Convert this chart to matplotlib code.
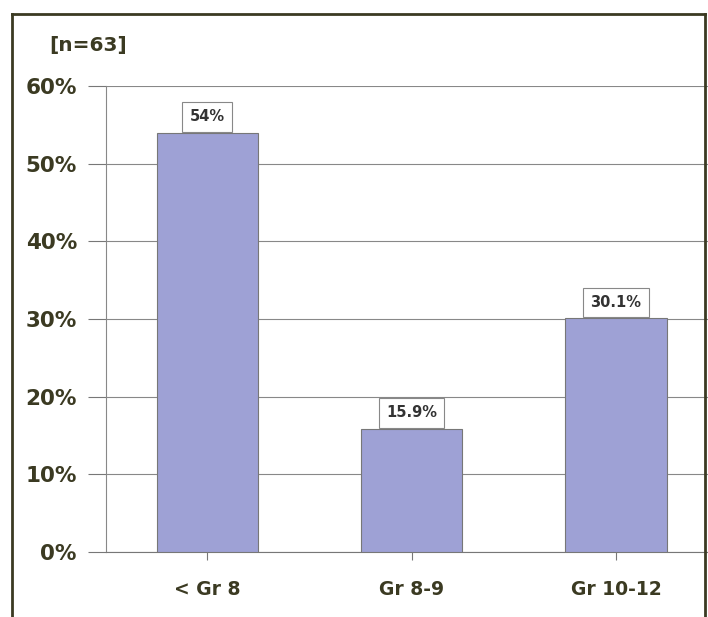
import matplotlib
matplotlib.use("Agg")
import matplotlib.pyplot as plt
from matplotlib.lines import Line2D

categories = ["< Gr 8", "Gr 8-9", "Gr 10-12"]
values = [54, 15.9, 30.1]
value_labels = ["54%", "15.9%", "30.1%"]
yticks = [0, 10, 20, 30, 40, 50, 60]
ytick_labels = ["0%", "10%", "20%", "30%", "40%", "50%", "60%"]
note = "[n=63]"

plt.rcParams['font.family'] = ['DejaVu Sans']
txt = "#3b3a22"

fig = plt.figure(figsize=(7.08, 6.17), dpi=100)
ax = fig.add_axes([106/708, 65/617, 602/708, 466/617])

x = list(range(len(categories)))
ax.bar(x, values, width=0.495, color="#9ea1d5", edgecolor="#777777", linewidth=0.8, zorder=3)
ax.set_ylim(0, 60)
ax.set_xlim(-0.495, (708-207)/204.5)
ax.set_yticks(yticks)
ax.set_yticklabels(ytick_labels, fontsize=15.5, fontweight="bold", color=txt)
ax.set_xticks(x)
ax.set_xticklabels(categories, fontsize=13.5, fontweight="bold", color=txt)
ax.tick_params(axis="y", length=13, width=0.8, color="#777777", pad=8)
ax.tick_params(axis="x", length=6, width=0.8, color="#777777", pad=14)
ax.grid(axis="y", color="#888888", linewidth=0.8, zorder=0)
for s in ["top", "right"]:
    ax.spines[s].set_visible(False)
ax.spines["left"].set_color("#888888")
ax.spines["bottom"].set_color("#777777")

for xi, v, lab in zip(x, values, value_labels):
    ax.annotate(lab, (xi, v), xytext=(0, 11.3), textcoords="offset points",
                ha="center", va="center", fontsize=10.5, fontweight="bold", color="#333333",
                bbox=dict(boxstyle="square,pad=0.5", fc="white", ec="#888888", lw=0.8), zorder=4)

fig.text(49/708, 1 - 45/617, note, fontsize=14.5, fontweight="bold", color=txt, va="center", ha="left")

# outer frame
fig.add_artist(Line2D([12/708, 12/708], [0, 1 - 14/617], transform=fig.transFigure, color="#3b3a22", lw=2))
fig.add_artist(Line2D([12/708, 705/708], [1 - 14/617, 1 - 14/617], transform=fig.transFigure, color="#3b3a22", lw=2))
fig.add_artist(Line2D([705/708, 705/708], [0, 1 - 14/617], transform=fig.transFigure, color="#3b3a22", lw=2))

fig.savefig("out.png", dpi=100)
